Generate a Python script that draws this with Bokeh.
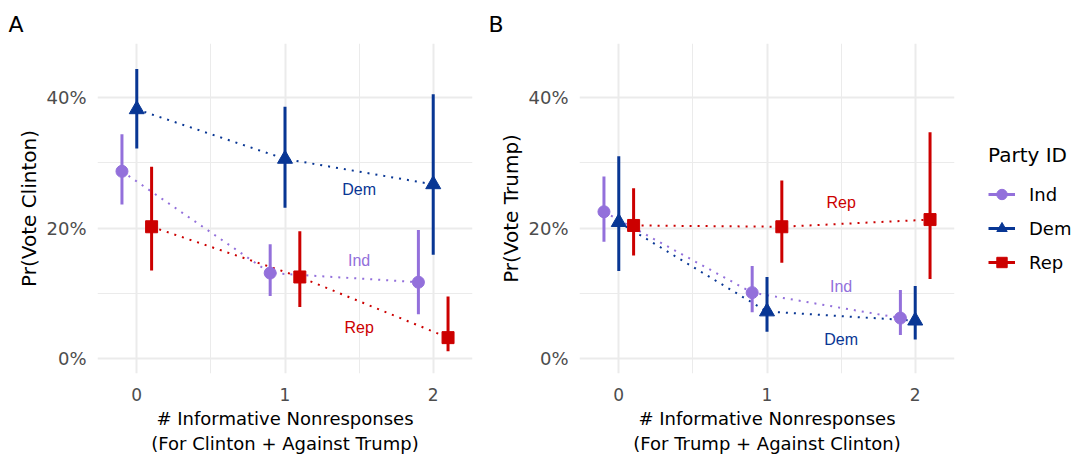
from bokeh.plotting import figure
from bokeh.models import Range1d, FixedTicker, NumeralTickFormatter, Legend, LegendItem, Title
from bokeh.layouts import row
from bokeh.embed import file_html
from bokeh.resources import INLINE
from bokeh.core.properties import value

# ---------------- data ----------------
nonresp = [0, 1, 2]
parties = ["Ind", "Dem", "Rep"]

# Panel A: Pr(Vote Clinton)
clinton_ind = [0.287, 0.131, 0.117]
clinton_ind_lo = [0.236, 0.096, 0.068]
clinton_ind_hi = [0.344, 0.175, 0.197]
clinton_dem = [0.382, 0.306, 0.267]
clinton_dem_lo = [0.322, 0.231, 0.159]
clinton_dem_hi = [0.444, 0.386, 0.405]
clinton_rep = [0.202, 0.125, 0.032]
clinton_rep_lo = [0.135, 0.079, 0.011]
clinton_rep_hi = [0.294, 0.195, 0.095]

# Panel B: Pr(Vote Trump)
trump_ind = [0.225, 0.101, 0.062]
trump_ind_lo = [0.179, 0.071, 0.036]
trump_ind_hi = [0.279, 0.142, 0.105]
trump_dem = [0.209, 0.072, 0.058]
trump_dem_lo = [0.134, 0.041, 0.029]
trump_dem_hi = [0.310, 0.125, 0.111]
trump_rep = [0.204, 0.202, 0.213]
trump_rep_lo = [0.158, 0.147, 0.122]
trump_rep_hi = [0.261, 0.273, 0.347]

# direct labels (x position, y position per party)
label_x = 1.5
clinton_label_y = {"Ind": 0.150, "Dem": 0.259, "Rep": 0.048}
trump_label_y = {"Ind": 0.111, "Dem": 0.029, "Rep": 0.239}

y_ticks = [0.0, 0.2, 0.4]
y_minor = [0.1, 0.3]
x_minor = [0.5, 1.5]

# ---------------- styles ----------------
COLORS = {"Ind": "#9370DB", "Dem": "#083694", "Rep": "#CC0000"}
MARKERS = {"Ind": "circle", "Dem": "triangle", "Rep": "square"}
SIZES = {"Ind": 12, "Dem": 15, "Rep": 12}
DODGE = {"Ind": -0.1, "Dem": 0.0, "Rep": 0.1}
AX_FONT = "DejaVu Sans"
GRID = "#EBEBEB"
H = 457


def make_panel(letter, ylab, xlab, series, label_y, width, border_left, border_right):
    p = figure(width=width, height=H,
               min_border_left=border_left, min_border_right=border_right,
               min_border_top=43, min_border_bottom=84,
               x_range=Range1d(-0.265, 2.265), y_range=Range1d(-0.023, 0.483),
               output_backend="svg", toolbar_location=None,
               background_fill_color="white", border_fill_color="white",
               outline_line_color=None)
    p.title = Title(text=letter, align="left", offset=-(border_left - 8),
                    text_font=AX_FONT, text_font_size="22px",
                    text_font_style="normal", text_color="black", standoff=14)
    p.xaxis.ticker = FixedTicker(ticks=nonresp, minor_ticks=x_minor)
    p.yaxis.ticker = FixedTicker(ticks=y_ticks, minor_ticks=y_minor)
    p.yaxis.formatter = NumeralTickFormatter(format="0%")
    for ax in (p.xaxis, p.yaxis):
        ax.axis_line_color = None
        ax.major_tick_line_color = None
        ax.minor_tick_line_color = None
        ax.major_label_text_font = AX_FONT
        ax.major_label_text_color = "#4D4D4D"
        ax.axis_label_text_font = AX_FONT
        ax.axis_label_text_font_style = "normal"
        ax.axis_label_text_color = "black"
    p.yaxis.major_label_text_font_size = "18px"
    p.xaxis.major_label_text_font_size = "17px"
    p.yaxis.axis_label = ylab
    p.yaxis.axis_label_text_font_size = "20px"
    p.xaxis.axis_label = xlab
    p.xaxis.axis_label_text_font_size = "18px"
    p.yaxis.major_label_standoff = 5
    p.xaxis.major_label_standoff = 8
    p.yaxis.axis_label_standoff = 2
    p.xaxis.axis_label_standoff = 4
    for g in (p.xgrid, p.ygrid):
        g.grid_line_color = GRID
        g.grid_line_width = 2
        g.minor_grid_line_color = GRID
        g.minor_grid_line_width = 1

    for party in parties:
        y, lo, hi = series[party]
        xs = [x + DODGE[party] for x in nonresp]
        p.line(xs, y, line_color=COLORS[party], line_width=2, line_dash="2 6")
    for party in parties:
        y, lo, hi = series[party]
        xs = [x + DODGE[party] for x in nonresp]
        c = COLORS[party]
        p.segment(x0=xs, y0=lo, x1=xs, y1=hi, line_color=c, line_width=3)
        p.scatter(xs, y, marker=MARKERS[party], size=SIZES[party],
                  fill_color=c, line_color=c)
        p.text(x=[label_x], y=[label_y[party]], text=[party], text_color=c,
               text_font_size="16px", text_font=value("Liberation Sans"),
               text_align="center", text_baseline="middle")
    return p


seriesA = {"Ind": (clinton_ind, clinton_ind_lo, clinton_ind_hi),
           "Dem": (clinton_dem, clinton_dem_lo, clinton_dem_hi),
           "Rep": (clinton_rep, clinton_rep_lo, clinton_rep_hi)}
seriesB = {"Ind": (trump_ind, trump_ind_lo, trump_ind_hi),
           "Dem": (trump_dem, trump_dem_lo, trump_dem_hi),
           "Rep": (trump_rep, trump_rep_lo, trump_rep_hi)}

pA = make_panel("A", "Pr(Vote Clinton)",
                "# Informative Nonresponses\n(For Clinton + Against Trump)",
                seriesA, clinton_label_y, 480, 97, 8)
pB = make_panel("B", "Pr(Vote Trump)",
                "# Informative Nonresponses\n(For Trump + Against Clinton)",
                seriesB, trump_label_y, 480, 99, 6)

# ---------------- legend panel ----------------
# the legend key glyphs reuse panel B's series; the view range hides the marks
pL = figure(width=120, height=H, min_border=0, output_backend="svg",
            toolbar_location=None, outline_line_color=None,
            x_axis_location=None, y_axis_location=None,
            x_range=Range1d(10, 11), y_range=Range1d(10, 11))
pL.grid.visible = False
items = []
for party in parties:
    c = COLORS[party]
    y, lo, hi = seriesB[party]
    seg = pL.segment(x0=nonresp, y0=lo, x1=nonresp, y1=hi, line_color=c, line_width=3)
    sc = pL.scatter(x=nonresp, y=y, marker=MARKERS[party], fill_color=c, line_color=c)
    items.append(LegendItem(label=party, renderers=[seg, sc]))

legend = Legend(items=items, title="Party ID", location=(28, 98),
                title_text_font=AX_FONT, title_text_font_size="20px",
                title_text_font_style="normal", title_text_color="black",
                title_standoff=14,
                label_text_font=AX_FONT, label_text_font_size="18px",
                label_text_color="black",
                glyph_width=27, glyph_height=26, label_height=26,
                label_standoff=14, spacing=8,
                background_fill_alpha=0, border_line_color=None,
                margin=0, padding=10)
pL.add_layout(legend, "center")

layout = row(pA, pB, pL, spacing=0)
open("out.html", "w").write(file_html(layout, INLINE))
